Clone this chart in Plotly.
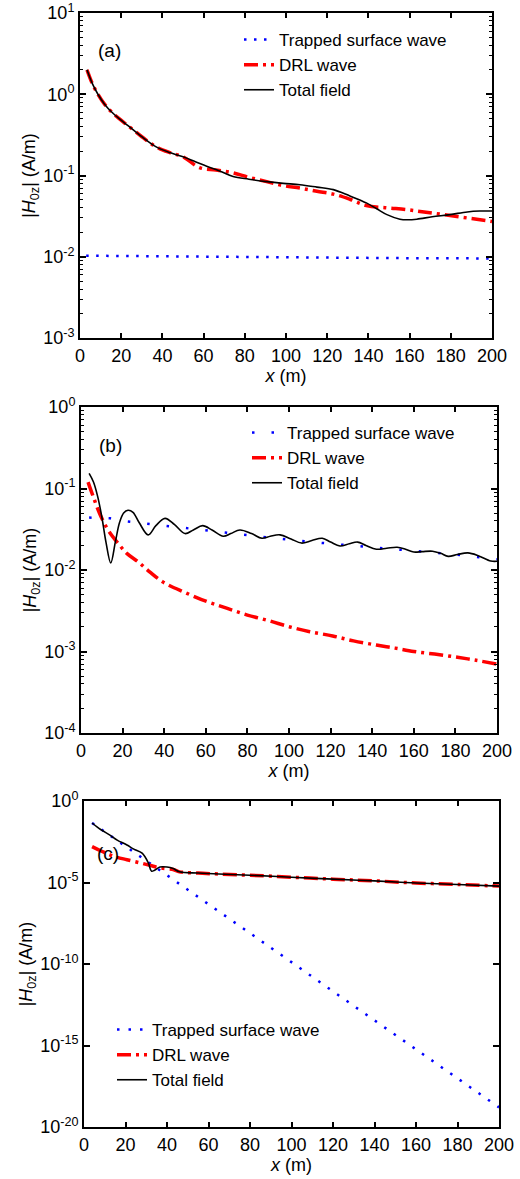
import plotly.graph_objects as go

# ---------------- panel (a) ----------------
a_trap_x = [3, 20, 40, 60, 80, 100, 120, 140, 160, 180, 200]
a_trap_y = [0.0103, 0.0102, 0.0101, 0.0100, 0.0099, 0.0098, 0.0097, 0.0097, 0.0096, 0.0096, 0.0095]

a_drl_x = [3.4, 6, 8.7, 12, 15.5, 19, 22.8, 30, 37, 44, 50, 58, 66, 74, 82, 90.6, 98.7, 106.8, 115, 123, 131, 139, 149, 158.7, 167, 176.5, 188, 200]
a_drl_y = [2.0, 1.35, 1.0, 0.75, 0.6, 0.5, 0.42, 0.3, 0.225, 0.19, 0.17, 0.125, 0.117, 0.108, 0.095, 0.084, 0.075, 0.07, 0.064, 0.059, 0.051, 0.0427, 0.040, 0.038, 0.0355, 0.033, 0.030, 0.0272]

a_tot_x = [3.4, 6, 8.7, 12, 15.5, 19, 22.8, 30, 37, 44, 50, 56, 61.5, 68, 74.3, 82, 90.6, 98.7, 106.8, 115, 123, 131, 139, 144, 149, 155.3, 159, 163.5, 171, 179.6, 188, 194, 200]
a_tot_y = [2.0, 1.35, 1.0, 0.75, 0.6, 0.5, 0.42, 0.3, 0.225, 0.19, 0.17, 0.148, 0.13, 0.113, 0.097, 0.09, 0.084, 0.08, 0.077, 0.072, 0.067, 0.056, 0.046, 0.039, 0.033, 0.029, 0.0285, 0.029, 0.031, 0.033, 0.0356, 0.0365, 0.0365]

# ---------------- panel (b) ----------------
b_trap_x = [3.9, 14, 20, 40, 60, 80, 100, 120, 140, 160, 180, 200]
b_trap_y = [0.044, 0.043, 0.040, 0.035, 0.031, 0.027, 0.0235, 0.021, 0.019, 0.017, 0.0155, 0.0135]

b_drl_x = [3.4, 6, 9, 13, 18, 22, 27.5, 33, 39.5, 50, 60.5, 70, 80, 90, 100.5, 110, 121, 131, 142, 151, 160, 170, 181, 190, 200]
b_drl_y = [0.12, 0.078, 0.049, 0.031, 0.021, 0.016, 0.0126, 0.0095, 0.0071, 0.0053, 0.0041, 0.0034, 0.0028, 0.0024, 0.0020, 0.00175, 0.00155, 0.00135, 0.0012, 0.0011, 0.001, 0.00093, 0.00085, 0.00078, 0.0007]

b_tot_x = [3.9, 6, 8, 10, 12, 14.3, 16.5, 18.5, 20.5, 22.6, 25, 28, 32.3, 36, 40.4, 45, 50, 54, 58.5, 63, 68.4, 72, 76.4, 82, 87, 91, 95.7, 101, 106, 111, 116, 120, 124.5, 129, 133, 137, 142, 147, 152, 156, 160, 164, 169, 173, 176.5, 181, 186, 191, 197, 200]
b_tot_y = [0.153, 0.12, 0.08, 0.045, 0.022, 0.0122, 0.022, 0.038, 0.05, 0.054, 0.051, 0.038, 0.027, 0.035, 0.043, 0.036, 0.028, 0.031, 0.035, 0.031, 0.026, 0.028, 0.031, 0.028, 0.0245, 0.026, 0.027, 0.024, 0.0214, 0.023, 0.0245, 0.022, 0.0197, 0.021, 0.022, 0.020, 0.018, 0.0185, 0.019, 0.018, 0.0166, 0.0168, 0.017, 0.016, 0.0147, 0.0155, 0.0162, 0.015, 0.0129, 0.0128]

# ---------------- panel (c) ----------------
c_trap_x = [3.9, 20, 40, 60, 80, 100, 120, 140, 160, 180, 200]
c_trap_y = [4.5e-2, 1.7e-3, 2.8e-5, 4.6e-7, 7.6e-9, 1.3e-10, 2.1e-12, 3.5e-14, 5.8e-16, 9.5e-18, 1.6e-19]

c_drl_x = [3.9, 8, 12.5, 16, 20.7, 27, 32, 36.6, 43, 46, 55, 65, 80, 100, 120, 140, 160, 180, 200]
c_drl_y = [1.6e-3, 8.9e-4, 5.0e-4, 3.5e-4, 2.5e-4, 1.6e-4, 1.1e-4, 7.9e-5, 6.3e-5, 4.5e-5, 3.8e-5, 3.3e-5, 2.8e-5, 2.1e-5, 1.6e-5, 1.26e-5, 9.3e-6, 7.6e-6, 6.0e-6]

c_tot_x = [3.9, 8, 12.5, 16, 20.7, 24, 28, 31, 32.5, 34, 36.6, 40, 43, 46, 55, 65, 80, 100, 120, 140, 160, 180, 200]
c_tot_y = [4.47e-2, 1.78e-2, 8.1e-3, 4.0e-3, 2.0e-3, 1.12e-3, 6.3e-4, 1.6e-4, 5.0e-5, 5.6e-5, 8.9e-5, 8.9e-5, 7.1e-5, 4.5e-5, 3.8e-5, 3.3e-5, 2.8e-5, 2.1e-5, 1.6e-5, 1.26e-5, 9.3e-6, 7.6e-6, 6.0e-6]

x_ticks = [0, 20, 40, 60, 80, 100, 120, 140, 160, 180, 200]
a_yticks = [-3, -2, -1, 0, 1]
b_yticks = [-4, -3, -2, -1, 0]
c_yticks = [-20, -15, -10, -5, 0]

FONT = "Arial, Liberation Sans, sans-serif"
W, H = 520, 1179


def px_x(v):
    return v / W


def px_y(v):
    return 1 - v / H


panels = [
    # (label, trap, drl, total, yticks, x px, y px, trap dash, legend px pos, label px pos)
    ("a", (a_trap_x, a_trap_y), (a_drl_x, a_drl_y), (a_tot_x, a_tot_y), a_yticks,
     (80, 492), (13, 338), "2.5px,7.5px", (239, 22), (109, 50)),
    ("b", (b_trap_x, b_trap_y), (b_drl_x, b_drl_y), (b_tot_x, b_tot_y), b_yticks,
     (81, 497), (407, 733), "2.5px,17px", (247, 415), (110, 445)),
    ("c", (c_trap_x, c_trap_y), (c_drl_x, c_drl_y), (c_tot_x, c_tot_y), c_yticks,
     (84, 499), (801, 1127), "2.5px,9px", (112, 1012), (108, 853)),
]

fig = go.Figure()
layout = {}
annotations = []

for i, (lab, trap, drl, tot, yt, xpx, ypx, tdash, legpx, labpx) in enumerate(panels):
    n = "" if i == 0 else str(i + 1)
    leg = "legend" + n
    xa, ya = "x" + n, "y" + n

    fig.add_trace(go.Scatter(x=trap[0], y=trap[1], mode="lines", name="Trapped surface wave",
                             line=dict(color="#0000ff", width=2.5, dash=tdash),
                             xaxis=xa, yaxis=ya, legend=leg))
    fig.add_trace(go.Scatter(x=drl[0], y=drl[1], mode="lines", name="DRL wave", line_shape="spline",
                             line=dict(color="#ff0000", width=3.5, dash="14px,5px,3px,5px"),
                             xaxis=xa, yaxis=ya, legend=leg))
    fig.add_trace(go.Scatter(x=tot[0], y=tot[1], mode="lines", name="Total field", line_shape="spline",
                             line=dict(color="black", width=1.6),
                             xaxis=xa, yaxis=ya, legend=leg))

    # minor ticks 2..9 inside each decade, only for the dense axes
    minor = dict(ticks="")
    if lab != "c":
        minor = dict(tickmode="array",
                     tickvals=[m * 10.0 ** d for d in range(yt[0], yt[-1]) for m in range(2, 10)],
                     ticks="inside", ticklen=3, tickwidth=1, tickcolor="black", showgrid=False)

    layout["xaxis" + n] = dict(
        domain=[px_x(xpx[0]), px_x(xpx[1])], anchor=ya, range=[0, 200], automargin=False,
        tickvals=x_ticks, ticks="inside", ticklen=5, tickwidth=1.5, tickcolor="black",
        ticklabeloverflow="allow",
        showline=True, linewidth=2, linecolor="black", mirror="allticks",
        showgrid=False, zeroline=False,
        tickfont=dict(family=FONT, size=18, color="black"),
        title=dict(text="<i>x</i> (m)", font=dict(family=FONT, size=18, color="black"), standoff=4),
    )
    layout["yaxis" + n] = dict(
        domain=[px_y(ypx[1]), px_y(ypx[0])], anchor=xa, type="log", automargin=False,
        range=[yt[0], yt[-1]],
        tickvals=[10.0 ** v for v in yt],
        ticktext=["10<sup>%d</sup>" % v for v in yt],
        ticks="inside", ticklen=6, tickwidth=1.5, tickcolor="black",
        ticklabeloverflow="allow",
        minor=minor,
        showline=True, linewidth=2, linecolor="black", mirror="allticks",
        showgrid=False, zeroline=False,
        tickfont=dict(family=FONT, size=18, color="black"),
        title=dict(text="|<i>H</i><sub>0z</sub>| (A/m)", font=dict(family=FONT, size=18, color="black"), standoff=3),
    )
    layout[leg] = dict(
        x=px_x(legpx[0]), y=px_y(legpx[1]), xanchor="left", yanchor="top",
        bgcolor="rgba(0,0,0,0)", borderwidth=0, tracegroupgap=0,
        font=dict(family=FONT, size=17, color="black"),
    )
    annotations.append(dict(text="(%s)" % lab, xref="paper", yref="paper",
                            x=px_x(labpx[0]), y=px_y(labpx[1]), xanchor="center", yanchor="middle",
                            showarrow=False, font=dict(family=FONT, size=19, color="black")))

fig.update_layout(
    width=W, height=H,
    margin=dict(l=0, r=0, t=0, b=0),
    paper_bgcolor="white", plot_bgcolor="white",
    showlegend=True,
    annotations=annotations,
    **layout,
)

# drop the default page margin so the figure sits at the window corner
fig.write_html("out.html", config={"displayModeBar": False},
               post_script="document.body.style.margin = '0px';")
